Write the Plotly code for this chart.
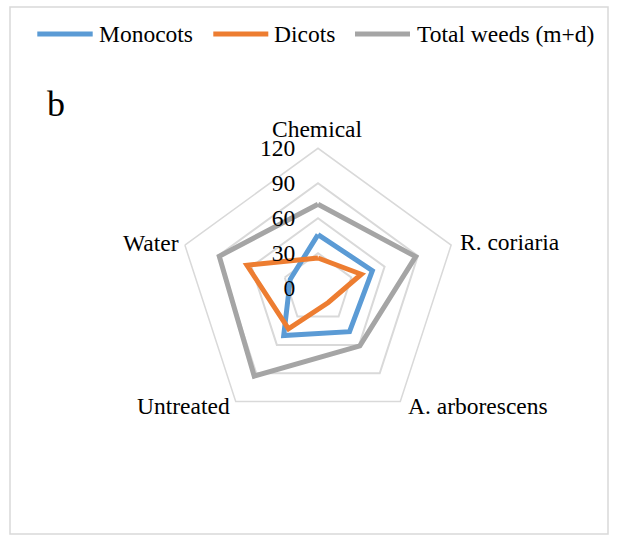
import math
import plotly.graph_objects as go

categories = ["Chemical", "R. coriaria", "A. arborescens", "Untreated", "Water"]
monocots = [46, 49, 46, 50, 25]
dicots = [26, 39, 15, 43, 64]
total = [72, 88, 61, 93, 89]
radial_ticks = [0, 30, 60, 90, 120]

series = [
    ("Monocots", monocots, "#5B9BD5"),
    ("Dicots", dicots, "#ED7D31"),
    ("Total weeds (m+d)", total, "#A5A5A5"),
]

W, H = 617, 535
FONT = "Liberation Serif"
FS = 23.5

fig = go.Figure()
for name, vals, col in series:
    fig.add_trace(go.Scatterpolar(
        r=vals + vals[:1],
        theta=categories + categories[:1],
        mode="lines",
        name=name,
        line=dict(color=col, width=5),
        showlegend=False,
    ))

cx, cy, R = 318, 288.3, 140

def px(x):
    return x / W

def py(y):
    return 1 - y / H

shapes = [dict(type="rect", xref="paper", yref="paper",
               x0=px(10), x1=px(608), y0=py(534), y1=py(7),
               line=dict(color="#D9D9D9", width=1.5), fillcolor="rgba(0,0,0,0)", layer="below")]
annotations = []
legend_pos = [(37.3, 92.7, 96.7), (213.3, 268.3, 272.3), (355, 410, 415)]
for (name, vals, col), (lx0, lx1, tx) in zip(series, legend_pos):
    shapes.append(dict(type="line", xref="paper", yref="paper",
                       x0=px(lx0), x1=px(lx1), y0=py(34), y1=py(34),
                       line=dict(color=col, width=5)))
    annotations.append(dict(text=name, xref="paper", yref="paper", x=px(tx), y=py(34),
                            xanchor="left", yanchor="middle", showarrow=False,
                            font=dict(family=FONT, size=FS, color="black")))
annotations.append(dict(text="b", xref="paper", yref="paper", x=px(45), y=py(104),
                        xanchor="left", yanchor="middle", showarrow=False,
                        font=dict(family=FONT, size=36, color="black")))

# category labels placed just outside the outer polygon vertices
label_style = [("center", 0, -19.5), ("left", 7, -3), ("left", 6, 4.5), ("right", -4, 4.5), ("right", -4, -2)]
n = len(categories)
for i, (cat, (anchor, dx, dy)) in enumerate(zip(categories, label_style)):
    ang = 2 * math.pi * i / n
    vx = cx + R * math.sin(ang)
    vy = cy - R * math.cos(ang)
    annotations.append(dict(text=cat, xref="paper", yref="paper",
                            x=px(vx + dx), y=py(vy + dy),
                            xanchor=anchor, yanchor="middle", showarrow=False,
                            font=dict(family=FONT, size=FS, color="black")))

fig.update_layout(
    width=W, height=H,
    margin=dict(l=0, r=0, t=0, b=0),
    paper_bgcolor="white",
    plot_bgcolor="white",
    font=dict(family=FONT, size=FS, color="black"),
    shapes=shapes,
    annotations=annotations,
    polar=dict(
        domain=dict(x=[px(cx - R), px(cx + R)], y=[py(cy + R), py(cy - R)]),
        gridshape="linear",
        bgcolor="white",
        radialaxis=dict(
            range=[0, 120], tickvals=radial_ticks, ticktext=[str(t) for t in radial_ticks],
            angle=90, tickangle=90, side="counterclockwise",
            showline=False, gridcolor="#D9D9D9", gridwidth=1.5,
            ticks="outside", ticklen=14, tickcolor="rgba(0,0,0,0)",
            tickfont=dict(family=FONT, size=FS, color="black"),
        ),
        angularaxis=dict(
            type="category", categoryarray=categories, rotation=90, direction="clockwise",
            showgrid=False, showline=True, linecolor="#D9D9D9", linewidth=1.5,
            ticks="", showticklabels=False,
        ),
    ),
)

fig.write_html("out.html", config={"displayModeBar": False},
               post_script="document.body.style.margin='0px';")
